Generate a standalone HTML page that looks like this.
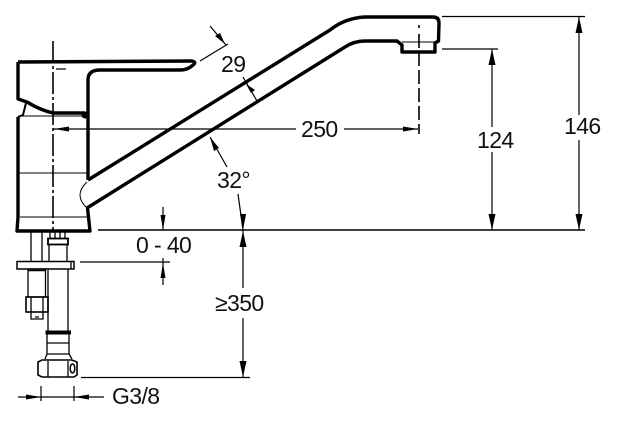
<!DOCTYPE html>
<html><head><meta charset="utf-8"><style>
html,body{margin:0;padding:0;background:#fff}
svg{display:block}
text{font-family:"Liberation Sans",sans-serif;font-size:23px;letter-spacing:-0.6px;fill:#111}
</style></head><body>
<svg width="622" height="421" viewBox="0 0 622 421" xmlns="http://www.w3.org/2000/svg">
<g fill="none" stroke="#000" stroke-linejoin="round">
<!-- handle & body thick -->
<g stroke-width="3.4">
<path d="M18 62 L192 61 Q197 62 193 65 Q188 70 180 70 L100 70 Q88 70 88 80 L88 180"/>
<path d="M18 62 L18 99 L27 102 Q40 110 53 113 L85 113"/>
<path d="M18 117 L18 217 L17 231 L90 231 L87.500 208"/>
<path d="M88 180 L330 30 Q345 18 365 17 L433 17 Q439 17 439 23 L438.500 41 L435 43 L435 52 L402 52 L402 45 L397 41 L365 41 Q354 41 345 47 L87 208"/>
</g>
<path d="M26 103 L23 115 L18 117" stroke-width="2"/>
<!-- thin body lines -->
<g stroke-width="1">
<path d="M18 116 L85 116 M18 173 L88 173 M20 217 L87 217"/>
<path d="M87 182 Q73 195 87 208"/>
<path d="M402 42 L435 42"/>
</g>
<circle cx="85" cy="115" r="3.500" fill="#000" stroke="none"/>
<rect x="56" y="68" width="10" height="2" fill="#666" stroke="none"/>
<!-- center lines -->
<path d="M53 41 L53 231" stroke-width="1.600" stroke-dasharray="22 3 3 3"/>
<path d="M419 25 L419 134" stroke-width="1.600" stroke-dasharray="3 6 14 4 14 4 14 4 14 4 14 4 14"/>
<!-- dimension lines -->
<g stroke-width="1.200">
<path d="M98 230 L585 230" stroke-width="1.500"/>
<path d="M442 16.500 L585 16.500 M442 49 L498 49"/>
<path d="M579 17 L579 115 M579 140 L579 230"/>
<path d="M492 49 L492 127 M492 152 L492 230"/>
<path d="M53 129 L296 129 M344 129 L418 129"/>
<path d="M210 26 L226 45 M200 61 L228 44"/>
<path d="M243 77 L257 101"/>
<path d="M210 137 L227 167 M238 194 L243 230"/>
<path d="M163 207 L163 230 M163 258 L163 285 M80 262 L170 262"/>
<path d="M243 230 L243 288 M243 318 L243 378 M81 377.500 L250 377.500"/>
<path d="M18 397 L104 397 M41 386 L41 401 M74 386 L74 401"/>
</g>
</g>
<!-- arrowheads -->
<g fill="#000" stroke="none">
<path d="M579 17 L575.500 33 L582.500 33Z M579 230 L575.500 214 L582.500 214Z"/>
<path d="M492 49 L488.500 65 L495.500 65Z M492 230 L488.500 214 L495.500 214Z"/>
<path d="M54 129 L69 126.500 L69 131.500Z M418 129 L403 126.500 L403 131.500Z"/>
<path d="M225 44 L215 36 L220 33Z M246 84 L251 93 L255 90Z"/>
<path d="M210 137 L219 148 L214 151Z M243 230 L240 214 L246 214Z"/>
<path d="M163 230 L160.500 215 L165.500 215Z M163 263 L160.500 278 L165.500 278Z"/>
<path d="M243 231 L239.500 247 L246.500 247Z M243 377 L239.500 361 L246.500 361Z"/>
<path d="M41 397 L26 394.500 L26 399.500Z M74 397 L89 394.500 L89 399.500Z"/>
</g>
<!-- under-deck parts -->
<g fill="none" stroke="#000" stroke-width="1.300">
<path d="M31 232 L31 261 M42 232 L42 261"/>
<path d="M50 232 L50 238 M55 232 L55 238 M60 232 L60 238 M65 232 L65 238"/>
<rect x="48" y="238.500" width="20" height="6" stroke-width="1.800"/>
<path d="M49 245 L49 261 M67 245 L67 261"/>
<rect x="17" y="261.500" width="57" height="7.500" stroke-width="1.500"/>
<path d="M71 262 L71 269"/>
<rect x="28" y="269" width="17.500" height="28"/>
<path d="M28 270.500 L45.500 270.500" stroke-width="1.500"/>
<rect x="26" y="297" width="22" height="15" stroke-width="1.600"/>
<path d="M31 297 L31 319 L43 319 L43 297 M35 317 L39 317"/>
<path d="M48 269 L48 331 M68 269 L68 331"/>
<rect x="46" y="331" width="24.500" height="3" fill="#000" stroke-width="1"/>
<path d="M47 334 L47 354 L45 359 M69 334 L69 354 L72 359 M47 343 L69 343 M47 354 L69 354"/>
<path d="M42 360 L72 360 L77 362 L77 375 L74 377 L42 377 L38 375 L38 362Z" stroke-width="1.600"/>
<path d="M48 361 L48 377 M68 361 L68 377"/>
<ellipse cx="72.500" cy="368.500" rx="2.300" ry="4.500" stroke-width="1.500"/>
</g>
<!-- labels -->
<text x="221" y="72">29</text>
<text x="301" y="137">250</text>
<text x="217" y="188">32°</text>
<text x="477" y="148">124</text>
<text x="564" y="134">146</text>
<text x="136" y="253">0 - 40</text>
<text x="215" y="311">≥350</text>
<text x="112" y="404">G3/8</text>
</svg>
</body></html>
